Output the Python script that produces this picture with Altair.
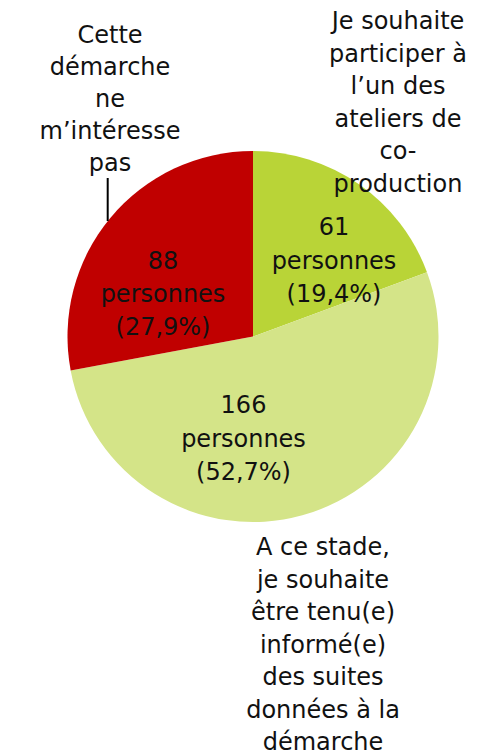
import altair as alt
import pandas as pd

categories = ["participer", "informe", "interesse_pas"]
counts = [61, 166, 88]
percents = ["19,4%", "52,7%", "27,9%"]
outer_labels = [
    ["Je souhaite", "participer à", "l’un des", "ateliers de", "co-", "production"],
    ["A ce stade,", "je souhaite", "être tenu(e)", "informé(e)", "des suites", "données à la", "démarche"],
    ["Cette", "démarche", "ne", "m’intéresse", "pas"],
]
colors = ["#B9D437", "#D4E488", "#C00000"]

df = pd.DataFrame({
    "category": categories,
    "count": counts,
    "order": list(range(len(categories))),
    "inner": [f"{c}\npersonnes\n({p})" for c, p in zip(counts, percents)],
    "outer": ["\n".join(l) for l in outer_labels],
})

FONT = "DejaVu Sans"
base = alt.Chart(df)

pie = base.mark_arc(outerRadius=185.5).encode(
    theta=alt.Theta("count:Q", stack=True),
    color=alt.Color("category:N", scale=alt.Scale(domain=categories, range=colors), legend=None),
    order=alt.Order("order:Q"),
    x=alt.value(245),
    y=alt.value(328.5),
)

# annotation anchors (pixels) for each slice: inner label, outer label
inner_pos = [(326, 227, 33.5), (235.5, 405, 33.5), (155, 261, 33)]
outer_pos = [(390, 21, 32.6), (315, 547, 32.5), (102, 35, 32)]

layers = [pie]
for i, cat in enumerate(categories):
    ix, iy, ilh = inner_pos[i]
    ox, oy, olh = outer_pos[i]
    layers.append(
        base.transform_filter(alt.datum.category == cat).mark_text(
            font=FONT, fontSize=24, color="#111111", align="center",
            baseline="alphabetic", lineBreak="\n", lineHeight=ilh,
        ).encode(text="inner:N", x=alt.value(ix), y=alt.value(iy))
    )
    layers.append(
        base.transform_filter(alt.datum.category == cat).mark_text(
            font=FONT, fontSize=24, color="#111111", align="center",
            baseline="alphabetic", lineBreak="\n", lineHeight=olh,
        ).encode(text="outer:N", x=alt.value(ox), y=alt.value(oy))
    )

leader = base.transform_filter(alt.datum.category == "interesse_pas").mark_rule(
    color="#000000", strokeWidth=2
).encode(x=alt.value(99.7), y=alt.value(170), y2=alt.value(213))
layers.append(leader)

chart = alt.layer(*layers).properties(
    width=461, height=743, padding=0,
    autosize=alt.AutoSizeParams(type="none"),
).configure_view(stroke=None)

chart.save("out.html", embed_options={"renderer": "svg", "actions": False})
